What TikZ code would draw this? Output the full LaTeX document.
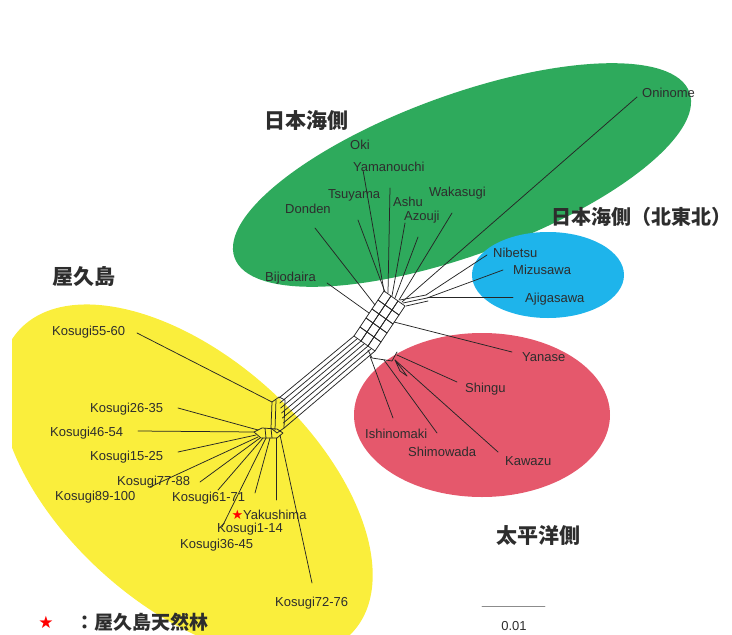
\documentclass[tikz,border=0pt]{standalone}
\usepackage{fontspec}
\setmainfont{Liberation Sans}
\newfontfamily\cjk{Noto Sans CJK JP}
\newfontfamily\symfont{DejaVu Sans}
\definecolor{nihonkai}{RGB}{46,170,92}
\definecolor{tohoku}{RGB}{30,180,235}
\definecolor{taiheiyo}{RGB}{229,88,108}
\definecolor{yaku}{RGB}{250,238,60}
\definecolor{txt}{RGB}{45,45,45}
\tikzset{
  lbl/.style={font=\fontsize{13}{13}\selectfont, text=txt, inner sep=0pt, anchor=west},
  grp/.style={font=\cjk\bfseries\fontsize{21}{21}\selectfont, text=txt, inner sep=0pt, anchor=west},
  br/.style={line width=0.75pt, black!85},
}
\begin{document}
\begin{tikzpicture}[x=1pt,y=-1pt,line join=round,line cap=round]
\useasboundingbox (0,0) rectangle (732,635);
% colour groups
\begin{scope}
  \clip (12,0) rectangle (732,635);
  \fill[yaku,rotate around={-42:(186,481)}] (186,481) ellipse (225 and 124);
\end{scope}
\fill[nihonkai,rotate around={20:(462,175)}] (462,175) ellipse (242 and 80);
\fill[tohoku] (548,275) ellipse (76 and 43);
\fill[taiheiyo] (482,415) ellipse (128 and 82);

% central lattice
\foreach \i in {0,1,2}
  \foreach \j in {0,...,4}
    \draw[br] ({354+7*\i+6*\j},{336+5*\i-9*\j}) -- ++(7,5) -- ++(6,-9) -- ++(-7,-5) -- cycle;
% band to Yakushima
\foreach \k in {0,...,6}
  \draw[br] ({279+0.85*\k},{398+5*\k}) -- ({354+3.5*\k},{336+2.5*\k});
% Yakushima box
\draw[br] (272,402) -- (279,397) -- (285,400) -- (284,428) -- (277,433) -- (271,428) -- cycle;
\draw[br] (276,400) -- (275,430);
\draw[br] (254,432) -- (262,428) -- (277,429) -- (283,433) -- (277,438) -- (261,438) -- cycle;
\draw[br] (265,428) -- (266,438) (271,428) -- (272,438);
% base of the Pacific branch
\draw[br] (368,350) -- (372,358) -- (392,361) -- (397,352);
\draw[br] (395,360) -- (402,369) -- (407,376) -- (400,371) -- cycle;
% base of the north-east branch
\draw[br] (400,300) -- (426,295) (403,303) -- (427,298) (406,306) -- (428,301);

% leaf ends
\coordinate (oki-e) at (363,170);        \coordinate (oki-h) at (384,291);
\coordinate (yamanouchi-e) at (390,188); \coordinate (yamanouchi-h) at (388,293);
\coordinate (tsuyama-e) at (358,220);    \coordinate (tsuyama-h) at (385,292);
\coordinate (ashu-e) at (405,223);       \coordinate (ashu-h) at (392,296);
\coordinate (azouji-e) at (418,237);     \coordinate (azouji-h) at (395,298);
\coordinate (wakasugi-e) at (452,213);   \coordinate (wakasugi-h) at (399,300);
\coordinate (oninome-e) at (637,97);     \coordinate (oninome-h) at (402,302);
\coordinate (donden-e) at (315,228);     \coordinate (donden-h) at (375,305);
\coordinate (bijodaira-e) at (327,283);  \coordinate (bijodaira-h) at (369,313);
\coordinate (nibetsu-e) at (487,255);    \coordinate (nibetsu-h) at (426,295);
\coordinate (mizusawa-e) at (503,270);   \coordinate (mizusawa-h) at (427,298);
\coordinate (ajigasawa-e) at (513,297);  \coordinate (ajigasawa-h) at (428,297);
\coordinate (yanase-e) at (512,352);     \coordinate (yanase-h) at (394,322);
\coordinate (shingu-e) at (457,382);     \coordinate (shingu-h) at (397,355);
\coordinate (kawazu-e) at (498,452);     \coordinate (kawazu-h) at (395,360);
\coordinate (shimowada-e) at (437,433);  \coordinate (shimowada-h) at (384,360);
\coordinate (ishinomaki-e) at (393,418); \coordinate (ishinomaki-h) at (370,356);
\coordinate (k5560-e) at (137,333);      \coordinate (k5560-h) at (272,402);
\coordinate (k2635-e) at (178,408);      \coordinate (k2635-h) at (258,430);
\coordinate (k4654-e) at (138,431);      \coordinate (k4654-h) at (254,432);
\coordinate (k1525-e) at (178,452);      \coordinate (k1525-h) at (256,435);
\coordinate (k7788-e) at (200,482);      \coordinate (k7788-h) at (260,438);
\coordinate (k89100-e) at (150,487);     \coordinate (k89100-h) at (258,437);
\coordinate (k114-e) at (218,490);       \coordinate (k114-h) at (263,438);
\coordinate (k3645-e) at (222,527);      \coordinate (k3645-h) at (266,438);
\coordinate (k6171-e) at (255,493);      \coordinate (k6171-h) at (270,438);
\coordinate (yakushima-e) at (276,500);  \coordinate (yakushima-h) at (276,438);
\coordinate (k7276-e) at (312,583);      \coordinate (k7276-h) at (280,435);
\foreach \n in {oki,yamanouchi,tsuyama,ashu,azouji,wakasugi,oninome,donden,bijodaira,
  nibetsu,mizusawa,ajigasawa,yanase,shingu,kawazu,shimowada,ishinomaki,
  k5560,k2635,k4654,k1525,k7788,k89100,k114,k3645,k6171,yakushima,k7276}
  \draw[br] (\n-h) -- (\n-e);

% labels
\node[lbl] (oninome) at (642,93) {Oninome};
\node[lbl] (oki) at (350,145) {Oki};
\node[lbl] (yamanouchi) at (353,167) {Yamanouchi};
\node[lbl] (tsuyama) at (328,195) {Tsuyama};
\node[lbl] (ashu) at (393,202) {Ashu};
\node[lbl] (azouji) at (404,217) {Azouji};
\node[lbl] (wakasugi) at (429,193) {Wakasugi};
\node[lbl] (donden) at (285,209) {Donden};
\node[lbl] (bijodaira) at (265,278) {Bijodaira};
\node[lbl] (nibetsu) at (493,253) {Nibetsu};
\node[lbl] (mizusawa) at (513,270) {Mizusawa};
\node[lbl] (ajigasawa) at (525,299) {Ajigasawa};
\node[lbl] (yanase) at (522,357) {Yanase};
\node[lbl] (shingu) at (465,389) {Shingu};
\node[lbl] (kawazu) at (505,461) {Kawazu};
\node[lbl] (shimowada) at (408,452) {Shimowada};
\node[lbl] (ishinomaki) at (365,434) {Ishinomaki};
\node[lbl] (k5560) at (52,332) {Kosugi55-60};
\node[lbl] (k2635) at (90,409) {Kosugi26-35};
\node[lbl] (k4654) at (50,433) {Kosugi46-54};
\node[lbl] (k1525) at (90,457) {Kosugi15-25};
\node[lbl] (k7788) at (117,482) {Kosugi77-88};
\node[lbl] (k89100) at (55,497) {Kosugi89-100};
\node[lbl] (k6171) at (172,498) {Kosugi61-71};
\node[font=\symfont\fontsize{13}{13}\selectfont, text=red, inner sep=0pt] (star) at (237.5,515) {★};
\node[lbl] (yakushima) at (243,515) {Yakushima};
\node[lbl] (k114) at (217,529) {Kosugi1-14};
\node[lbl] (k3645) at (180,545) {Kosugi36-45};
\node[lbl] (k7276) at (275,603) {Kosugi72-76};

% group names
\node[grp] (g-sea) at (264,121) {日本海側};
\node[grp, font=\cjk\bfseries\fontsize{20}{20}\selectfont] (g-ne) at (551,217) {日本海側（北東北）};
\node[grp] (g-yaku) at (52,276) {屋久島};
\node[grp] (g-pac) at (496,536) {太平洋側};

% legend and scale
\node[font=\symfont\fontsize{17}{17}\selectfont, text=red, inner sep=0pt] (leg-star) at (46,622) {★};
\node[font=\cjk\bfseries\fontsize{19}{19}\selectfont, text=txt, inner sep=0pt, anchor=west] (leg) at (75,622) {：屋久島天然林};
\coordinate (sb-l) at (482,606);
\coordinate (sb-r) at (545,606);
\draw[black!45, line width=0.8pt] (sb-l) -- (sb-r);
\node[lbl, anchor=center] (sb) at (514,626) {0.01};
\end{tikzpicture}
\end{document}
